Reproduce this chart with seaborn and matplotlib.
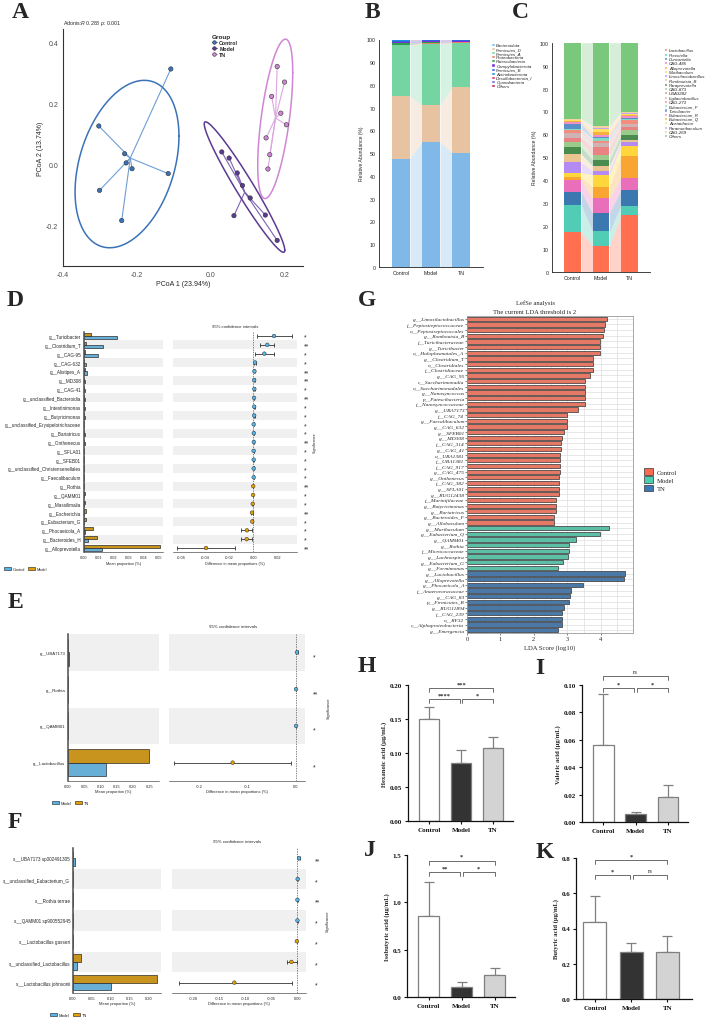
import numpy as np
import pandas as pd
import seaborn as sns
import matplotlib.pyplot as plt
from matplotlib.patches import Patch
from matplotlib.lines import Line2D
from matplotlib.transforms import blended_transform_factory

# ---------------- data ----------------
groups = ['Control', 'Model', 'TN']

# A: PCoA scores
pcoa_ctrl_x = [-0.108, -0.303, -0.233, -0.229, -0.213, -0.115, -0.301, -0.241]
pcoa_ctrl_y = [0.312, 0.125, 0.034, 0.004, -0.015, -0.031, -0.086, -0.185]
pcoa_model_x = [0.050, 0.072, 0.086, 0.107, 0.063, 0.180, 0.148, 0.030]
pcoa_model_y = [0.020, -0.029, -0.070, -0.111, -0.169, -0.250, -0.167, 0.040]
pcoa_tn_x = [0.180, 0.200, 0.165, 0.190, 0.205, 0.150, 0.160, 0.155]
pcoa_tn_y = [0.320, 0.269, 0.222, 0.167, 0.129, 0.086, 0.031, -0.016]

# B: phylum level relative abundance (%)
phyla = ['Bacteroidota', 'Firmicutes_D', 'Firmicutes_A', 'Proteobacteria', 'Patescibacteria',
         'Campylobacterota', 'Firmicutes_B', 'Actinobacteriota', 'Desulfobacterota_I',
         'Cyanobacteria', 'Others']
phylum_ctrl = [47.6, 27.4, 22.4, 0.4, 0.7, 0.6, 0.4, 0.1, 0.1, 0.1, 0.2]
phylum_model = [55.0, 16.1, 27.0, 0.5, 0.2, 0.5, 0.4, 0.1, 0.05, 0.05, 0.1]
phylum_tn = [50.2, 28.9, 19.4, 0.4, 0.1, 0.4, 0.4, 0.05, 0.05, 0.05, 0.05]

# C: genus level relative abundance (%)
genera = ['Lactobacillus', 'Prevotella', 'Duncaniella', 'CAG-485', 'Alloprevotella', 'Muribaculum',
          'Limosilactobacillus', 'Romboutsia_B', 'Paraprevotella', 'CAG-873', 'UBA3282',
          'Ligilactobacillus', 'CAG-273', 'Eubacterium_F', 'Turicibacter', 'Eubacterium_R',
          'Eubacterium_Q', 'Acetatifactor', 'Paramuribaculum', 'CAG-269', 'Others']
genus_ctrl = [17.2, 12.1, 5.6, 5.1, 1.2, 2.0, 4.5, 3.7, 3.2, 2.0, 1.8, 2.3, 1.0, 0.6, 2.3, 0.6, 0.4, 0.5, 0.3, 0.4, 33.2]
genus_model = [11.4, 6.2, 7.9, 6.5, 5.1, 5.3, 1.6, 2.3, 2.5, 2.1, 3.4, 1.9, 1.0, 1.0, 0.6, 0.7, 1.6, 1.2, 0.6, 0.7, 36.4]
genus_tn = [24.9, 3.9, 7.0, 5.1, 9.5, 4.6, 1.8, 0.6, 2.1, 2.2, 1.5, 1.3, 1.6, 0.7, 0.4, 0.6, 0.5, 0.6, 0.4, 0.4, 30.3]

# D: Control vs Model (STAMP)
d_taxa = ['g__Turicibacter', 'g__Clostridium_T', 'g__CAG-95', 'g__CAG-632', 'g__Alistipes_A', 'g__MD308',
          'g__CAG-41', 'g__unclassified_Bacteroidia', 'g__Intestinimonas', 'g__Butyricimonas',
          'g__unclassified_Erysipelotrichaceae', 'g__Bariatricus', 'g__Onthenecus', 'g__SFLA01',
          'g__SFEB01', 'g__unclassified_Christensenellales', 'g__Faecalibaculum', 'g__Rothia',
          'g__QAMM01', 'g__Massilimalia', 'g__Escherichia', 'g__Eubacterium_G', 'g__Phocaeicola_A',
          'g__Bacteroides_H', 'g__Alloprevotella']
d_ctrl = [0.022, 0.013, 0.0095, 0.0016, 0.0018, 0.0008, 0.0009, 0.0008, 0.0007, 0.0008, 0.0003, 0.0004,
          0.0004, 0.0003, 0.0003, 0.0003, 0.0003, 0.0001, 0.0001, 0.0002, 0.0003, 0.0002, 0.0005, 0.0030, 0.0118]
d_model = [0.005, 0.0016, 0.0005, 0.0003, 0.0010, 0.0002, 0.0002, 0.0003, 0.0001, 0.0002, 0.0001, 0.0001,
           0.0001, 0.0001, 0.0001, 0.0001, 0.0001, 0.0003, 0.0004, 0.0008, 0.0015, 0.0012, 0.0059, 0.0086, 0.0510]
d_lo = [0.003, 0.0058, 0.0009, 0.0006, 0.0004, 0.0003, 0.0003, 0.0002, 0.0002, 0.0002, 0.0001, 0.0001,
        0.0001, 0.0001, 0.0000, 0.0001, 0.0001, -0.0003, -0.0005, -0.0009, -0.0019, -0.0016, -0.0099, -0.0099, -0.0630]
d_hi = [0.032, 0.0174, 0.0168, 0.0019, 0.0012, 0.0009, 0.0011, 0.0008, 0.0010, 0.0010, 0.0004, 0.0005,
        0.0005, 0.0004, 0.0004, 0.0003, 0.0004, -0.0001, -0.0001, -0.0003, -0.0005, -0.0004, -0.0009, -0.0015, -0.0150]
d_sig = ['*', '**', '*', '*', '**', '**', '*', '**', '*', '*', '*', '*', '**', '*', '*', '*', '*', '**',
         '*', '*', '**', '*', '*', '*', '**']

# E: Model vs TN, genus
e_taxa = ['g__UBA7173', 'g__Rothia', 'g__QAMM01', 'g__Lactobacillus']
e_model = [0.0035, 0.0006, 0.0007, 0.117]
e_tn = [0.0012, 0.0002, 0.0002, 0.248]
e_lo = [-0.0003, 0.0001, 0.0001, -0.253]
e_hi = [0.0050, 0.0007, 0.0009, -0.010]
e_sig = ['*', '**', '*', '*']

# F: Model vs TN, species
f_taxa = ['s__UBA7173 sp002491305', 's__unclassified_Eubacterium_G', 's__Rothia terrae',
          's__QAMM01 sp900552945', 's__Lactobacillus gasseri', 's__unclassified_Lactobacillus',
          's__Lactobacillus johnsonii']
f_model = [0.0045, 0.0012, 0.0006, 0.0007, 0.0002, 0.0099, 0.100]
f_tn = [0.0010, 0.0002, 0.0001, 0.0002, 0.0008, 0.0210, 0.221]
f_lo = [0.0015, 0.0001, 0.0002, 0.0002, -0.0010, -0.0205, -0.228]
f_hi = [0.0055, 0.0019, 0.0008, 0.0008, -0.0002, -0.0005, -0.0096]
f_sig = ['**', '*', '**', '*', '*', '*', '*']

# G: LEfSe
g_ctrl_taxa = ['g__Limosilactobacillus', 'f__Peptostreptococcaceae', 'o__Peptostreptococcales',
               'g__Romboutsia_B', 'f__Turicibacteraceae', 'g__Turicibacter', 'o__Haloplasmatales_A',
               'g__Clostridium_T', 'o__Clostridiales', 'f__Clostridiaceae', 'g__CAG_95',
               'c__Saccharimonadia', 'o__Saccharimonadales', 'g__Nanosyncoccus', 'p__Patescibacteria',
               'f__Nanosyncoccaceae', 'g__UBA7173', 'f__CAG_74', 'g__Faecalibaculum', 'g__CAG_632',
               'g__SFEB01', 'g__MD308', 'f__CAG_314', 'g__CAG_41', 'o__UBA1381', 'f__UBA1381',
               'f__CAG_917', 'g__CAG_475', 'g__Onthenecus', 'f__CAG_382', 'g__SFLA01', 'g__RUG12438',
               'f__Marinifilaceae', 'g__Butyricimonas', 'g__Bariatricus', 'g__Bacteroides_F',
               'g__Allobaculum']
g_ctrl_lda = [4.19, 4.14, 4.10, 4.08, 3.97, 3.97, 3.97, 3.76, 3.76, 3.76, 3.69, 3.52, 3.52, 3.52, 3.52,
              3.52, 3.31, 3.00, 2.99, 2.98, 2.89, 2.83, 2.81, 2.80, 2.79, 2.79, 2.77, 2.77, 2.75, 2.74,
              2.74, 2.74, 2.67, 2.67, 2.65, 2.59, 2.59]
g_model_taxa = ['g__Muribaculum', 'g__Eubacterium_Q', 'g__QAMM01', 'g__Rothia', 'f__Micrococcaceae',
                'g__Lachnospira', 'g__Eubacterium_G', 'g__Formimonas']
g_model_lda = [4.25, 3.97, 3.25, 3.04, 3.04, 3.03, 2.86, 2.73]
g_tn_taxa = ['g__Lactobacillus', 'g__Alloprevotella', 'g__Phocaeicola_A', 'f__Anaerovoracaceae',
             'g__CAG_83', 'p__Firmicutes_B', 'g__RUG11894', 'f__CAG_239', 'o__RF32',
             'c__Alphaproteobacteria', 'g__Emergencia']
g_tn_lda = [4.73, 4.70, 3.48, 3.10, 3.07, 3.05, 2.90, 2.84, 2.84, 2.84, 2.73]

# H-K: SCFA concentrations (mean, SD)
hex_mean = [0.1505, 0.0858, 0.108]
hex_sd = [0.0175, 0.018, 0.016]
val_mean = [0.0564, 0.006, 0.018]
val_sd = [0.0368, 0.0012, 0.0087]
iso_mean = [0.858, 0.109, 0.233]
iso_sd = [0.352, 0.053, 0.074]
but_mean = [0.435, 0.268, 0.268]
but_sd = [0.151, 0.048, 0.091]
hex_sig = ['****', '*', '***']   # Control-Model, Model-TN, Control-TN
val_sig = ['*', '*', 'ns']
iso_sig = ['**', '*', '*']
but_sig = ['*', 'ns', '*']

# ---------------- style ----------------
sns.set_theme(style='white')
plt.rcParams['font.family'] = ['Liberation Sans', 'DejaVu Sans']
plt.rcParams['mathtext.fontset'] = 'custom'
plt.rcParams['mathtext.it'] = 'Liberation Sans:italic'
plt.rcParams['mathtext.rm'] = 'Liberation Sans'
SERIF = 'Liberation Serif'

pcoa_col = {'Control': '#3A72B8', 'Model': '#5B3A93', 'TN': '#CF86D3'}
pcoa_line = {'Control': '#6E9ED6', 'Model': '#7E62B3', 'TN': '#DDA6E0'}
phylum_colors = ['#80B9E8', '#E8C3A2', '#74D4A2', '#E0856E', '#2E9E4A', '#7B2FD6', '#3264E6',
                 '#1C8FE0', '#D6336C', '#6868E8', '#C41E45']
genus_colors = ['#FF6F50', '#52CDB5', '#3B78B0', '#E96FBA', '#F8A532', '#FFD63B', '#B38BF2',
                '#EAC592', '#4A8C50', '#9ACB8C', '#E98383', '#CDB3B3', '#F38D7F', '#82DAC2',
                '#5A90C8', '#F18FCA', '#F6B040', '#FFE262', '#C3A3F2', '#F1D2A3', '#79C87B']
stamp_blue, stamp_orange = '#56B4E9', '#E69F00'
lefse_col = {'Control': '#FA6A50', 'Model': '#4CCFAE', 'TN': '#3C79B6'}
acid_col = {'Control': '#FFFFFF', 'Model': '#333333', 'TN': '#D3D3D3'}

W, H = 710, 1020
fig = plt.figure(figsize=(W / 100, H / 100), dpi=100)


def add_ax(x0, y0, x1, y1):
    return fig.add_axes([x0 / W, 1 - y1 / H, (x1 - x0) / W, (y1 - y0) / H])


def ftext(x, y, s, **kw):
    fig.text(x / W, 1 - y / H, s, **kw)


def letter(x, y, s):
    ftext(x, y, s, ha='center', va='center', fontsize=17, fontweight='bold', family=SERIF)


def t_ellipse(pts, level=0.95, nu=5, npts=200):
    # robust covariance (like MASS::cov.trob) scaled to a 95% region
    n, p = pts.shape
    wt = np.ones(n)
    loc = pts.mean(0)
    w = np.sqrt(wt)
    for _ in range(25):
        w0 = w
        X = pts - loc
        _, d, vt = np.linalg.svd(np.sqrt(w / w.sum())[:, None] * X, full_matrices=False)
        wX = X @ vt.T @ np.diag(1 / d)
        Q = (wX ** 2).sum(1)
        w = wt * (nu + p) / (nu + Q)
        loc = (w[:, None] * pts).sum(0) / w.sum()
        if np.all(np.abs(w - w0) < 0.01):
            break
    Xs = np.sqrt(w)[:, None] * X
    cov = Xs.T @ Xs / wt.sum()
    r = np.sqrt(-2 * np.log(1 - level))
    t = np.linspace(0, 2 * np.pi, npts)
    circ = np.column_stack([np.cos(t), np.sin(t)])
    return loc + r * circ @ np.linalg.cholesky(cov).T


# ---------------- A ----------------
axA = add_ax(63, 30, 303, 267)
pcoa = pd.DataFrame({
    'PC1': pcoa_ctrl_x + pcoa_model_x + pcoa_tn_x,
    'PC2': pcoa_ctrl_y + pcoa_model_y + pcoa_tn_y,
    'Group': ['Control'] * len(pcoa_ctrl_x) + ['Model'] * len(pcoa_model_x) + ['TN'] * len(pcoa_tn_x)})
for g in groups:
    pts = pcoa.loc[pcoa.Group == g, ['PC1', 'PC2']].to_numpy()
    cx, cy = pts.mean(0)
    for x, y in pts:
        axA.plot([cx, x], [cy, y], color=pcoa_line[g], lw=0.8, zorder=1)
    ell = t_ellipse(pts)
    axA.plot(ell[:, 0], ell[:, 1], color=pcoa_col[g], lw=1.1, zorder=1)
sns.scatterplot(data=pcoa, x='PC1', y='PC2', hue='Group', palette=pcoa_col, s=10, edgecolor='#333333',
                linewidth=0.4, legend=False, ax=axA, zorder=3)
axA.set_xlim(-0.4, 0.25)
axA.set_ylim(-0.334, 0.443)
axA.set_xticks([-0.4, -0.2, 0.0, 0.2])
axA.set_yticks([-0.2, 0.0, 0.2, 0.4])
axA.xaxis.set_major_formatter(plt.FormatStrFormatter('%.1f'))
axA.yaxis.set_major_formatter(plt.FormatStrFormatter('%.1f'))
axA.tick_params(labelsize=5, colors='#4D4D4D', length=2, width=0.6, pad=1.5)
for s in ['top', 'right']:
    axA.spines[s].set_visible(False)
for s in ['left', 'bottom']:
    axA.spines[s].set_color('#333333')
    axA.spines[s].set_linewidth(0.8)
axA.set_xlabel('PCoA 1 (23.94%)', fontsize=5, labelpad=1.5)
axA.set_ylabel('PCoA 2 (13.74%)', fontsize=5, labelpad=1.5)
handles = [Line2D([0], [0], color=pcoa_line[g], lw=0.8, marker='o', markersize=2.6,
                  markerfacecolor=pcoa_col[g], markeredgecolor='#333333', markeredgewidth=0.4, label=g)
           for g in groups]
leg = axA.legend(handles=handles, title='Group', loc='upper left', bbox_to_anchor=(0.6, 1.0),
                 frameon=False, fontsize=3.8, title_fontsize=4.6, handlelength=1.0, labelspacing=0.2,
                 handletextpad=0.4)
leg.get_title().set_fontweight('bold')
leg._legend_box.align = 'left'
for t in leg.get_texts():
    t.set_fontweight('bold')
ftext(63, 23, r'Adonis:$\it{R}$ 0.288 $\it{p}$: 0.001', fontsize=3.8, va='center', ha='left')


# ---------------- B, C ----------------
def stack_flow(ax, names, cols, values, colors, width=0.6):
    x = np.arange(len(cols))
    bottom = np.zeros(len(cols))
    for k, (name, col) in enumerate(zip(names, colors)):
        vals = np.array([v[k] for v in values])
        ax.bar(x, vals, bottom=bottom, width=width, color=col, linewidth=0, zorder=2)
        top = bottom + vals
        for i in range(len(cols) - 1):
            xs = [x[i] + width / 2, x[i + 1] - width / 2]
            ax.fill_between(xs, bottom[i:i + 2], top[i:i + 2], color=col, alpha=0.3, lw=0, zorder=1)
        bottom = top
    ax.set_xticks(x)
    ax.set_xticklabels(cols)
    ax.set_xlim(-0.73, len(cols) - 1 + 0.73)
    ax.set_ylim(0, 100)
    ax.set_yticks(np.arange(0, 101, 10))
    ax.tick_params(labelsize=3.8, length=1.5, width=0.5, pad=1, colors='#222222')
    for s in ['top', 'right']:
        ax.spines[s].set_visible(False)
    for s in ['left', 'bottom']:
        ax.spines[s].set_linewidth(0.6)
        ax.spines[s].set_color('#222222')
    ax.set_ylabel('Relative Abundance (%)', fontsize=3.6, labelpad=1.5)
    hd = [Patch(facecolor=c, label=n) for n, c in zip(names, colors)]
    return hd


axB = add_ax(379, 40.5, 483, 268)
hB = stack_flow(axB, phyla, groups, [phylum_ctrl, phylum_model, phylum_tn], phylum_colors)
lg = axB.legend(handles=hB, loc='upper left', bbox_to_anchor=(1.06, 0.995), frameon=False, fontsize=3.2,
                handlelength=0.7, handleheight=0.7, labelspacing=0.0, handletextpad=0.4, borderpad=0)
for t in lg.get_texts():
    t.set_fontstyle('italic')

axC = add_ax(552, 43.7, 650, 272.7)
hC = stack_flow(axC, genera, groups, [genus_ctrl, genus_model, genus_tn], genus_colors)
lg = axC.legend(handles=hC, loc='upper left', bbox_to_anchor=(1.12, 0.985), frameon=False, fontsize=3.2,
                handlelength=0.7, handleheight=0.7, labelspacing=0.04, handletextpad=0.4, borderpad=0)
for t in lg.get_texts():
    t.set_fontstyle('italic')


# ---------------- D, E, F ----------------
def stamp(box_bar, box_ci, taxa, v1, v2, lo, hi, sig, names, bar_lim, bar_ticks, bar_fmt,
          ci_lim, ci_ticks, ci_fmt, lab_fs, tick_fs, star_x, sig_x, title_xy, legend_xy):
    n = len(taxa)
    diff = np.array(v1) - np.array(v2)
    axb = add_ax(*box_bar)
    axc = add_ax(*box_ci)
    for ax in (axb, axc):
        for i in range(n):
            if (n - 1 - i) % 2 == 1:
                ax.axhspan(i - 0.5, i + 0.5, color='#F0F0F0', lw=0, zorder=0)
    long = pd.DataFrame({'taxon': taxa * 2, 'value': list(v1) + list(v2),
                         'group': [names[0]] * n + [names[1]] * n})
    sns.barplot(data=long, x='value', y='taxon', hue='group', order=taxa, hue_order=[names[1], names[0]],
                palette={names[0]: stamp_blue, names[1]: stamp_orange}, orient='h', width=0.74,
                edgecolor='#1A1A1A', linewidth=0.45, errorbar=None, legend=False, ax=axb, zorder=2)
    axb.set_ylim(n - 0.5, -0.5)
    axb.set_xlim(*bar_lim)
    axb.set_xticks(bar_ticks)
    axb.xaxis.set_major_formatter(plt.FormatStrFormatter(bar_fmt))
    axb.set_xlabel('Mean proportion (%)', fontsize=tick_fs, labelpad=1)
    axb.set_ylabel('')
    axb.tick_params(axis='y', labelsize=lab_fs, length=1.2, width=0.4, pad=0.8)
    axb.tick_params(axis='x', labelsize=tick_fs, length=1.2, width=0.4, pad=0.8)
    for s in ['top', 'right']:
        axb.spines[s].set_visible(False)
    axb.spines['left'].set_linewidth(1.1)
    axb.spines['left'].set_color('#4D4D4D')
    axb.spines['bottom'].set_linewidth(0.4)
    axb.spines['bottom'].set_color('#222222')

    rows = np.arange(n)
    axc.errorbar(diff, rows, xerr=[diff - np.array(lo), np.array(hi) - diff], fmt='none',
                 ecolor='#333333', elinewidth=0.6, capsize=1.4, capthick=0.6, zorder=2)
    pts = pd.DataFrame({'diff': diff, 'row': rows,
                        'side': np.where(diff > 0, names[0], names[1])})
    sns.scatterplot(data=pts, x='diff', y='row', hue='side',
                    palette={names[0]: stamp_blue, names[1]: stamp_orange}, s=7,
                    edgecolor='#333333', linewidth=0.35, legend=False, ax=axc, zorder=3)
    axc.axvline(0, color='#555555', lw=0.5, ls=(0, (2, 1.5)), zorder=1)
    axc.set_ylim(n - 0.5, -0.5)
    axc.set_xlim(*ci_lim)
    axc.set_xticks(ci_ticks)
    axc.xaxis.set_major_formatter(plt.FormatStrFormatter(ci_fmt))
    axc.set_yticks([])
    axc.set_ylabel('')
    axc.set_xlabel('Difference in mean proportions (%)', fontsize=tick_fs, labelpad=1)
    axc.tick_params(axis='x', labelsize=tick_fs, length=1.2, width=0.4, pad=0.8)
    for s in ['top', 'right', 'left']:
        axc.spines[s].set_visible(False)
    axc.spines['bottom'].set_linewidth(0.4)
    axc.spines['bottom'].set_color('#222222')
    tr = blended_transform_factory(axc.transAxes, axc.transData)
    for i, s in enumerate(sig):
        axc.text(star_x, i + 0.12, s, transform=tr, ha='left', va='center', fontsize=4.8,
                 clip_on=False)
    axc.text(sig_x, 0.5, 'Significance', transform=axc.transAxes, rotation=90, ha='center',
             va='center', fontsize=tick_fs)
    ftext(title_xy[0], title_xy[1], '95% confidence intervals', ha='center', va='center',
          fontsize=tick_fs + 0.3)
    hd = [Patch(facecolor=stamp_blue, edgecolor='#1A1A1A', linewidth=0.4, label=names[0]),
          Patch(facecolor=stamp_orange, edgecolor='#1A1A1A', linewidth=0.4, label=names[1])]
    fig.legend(handles=hd, loc='center left', bbox_to_anchor=(legend_xy[0] / W, 1 - legend_xy[1] / H),
               ncol=2, frameon=False, fontsize=tick_fs, handlelength=1.8, handleheight=0.9,
               columnspacing=0.8, handletextpad=0.4, borderpad=0)


stamp((84, 332.6, 163, 553.4), (173, 332.6, 297, 553.4), d_taxa, d_ctrl, d_model, d_lo, d_hi, d_sig,
      ['Control', 'Model'], (0, 0.053), np.arange(0, 0.051, 0.01), '%.2f',
      (-0.0665, 0.036), [-0.06, -0.04, -0.02, 0.0, 0.02], '%.2f', 3.3, 2.8, 1.056, 1.145,
      (235, 327), (2, 570))
stamp((68, 635, 159, 782), (169, 635, 305, 782), e_taxa, e_model, e_tn, e_lo, e_hi, e_sig,
      ['Model', 'TN'], (0, 0.28), np.arange(0, 0.26, 0.05), '%.2f',
      (-0.263, 0.019), [-0.2, -0.1, 0.0], '%.1f', 3.2, 2.9, 1.06, 1.176,
      (233, 627), (50, 804))
stamp((73, 849, 161, 994), (172, 849, 306, 994), f_taxa, f_model, f_tn, f_lo, f_hi, f_sig,
      ['Model', 'TN'], (0, 0.232), np.arange(0, 0.21, 0.05), '%.2f',
      (-0.241, 0.017), [-0.20, -0.15, -0.10, -0.05, 0.0], '%.2f', 3.3, 2.9, 1.067, 1.164,
      (237, 842), (48, 1016))

# ---------------- G ----------------
axG = add_ax(467, 317, 633, 634)
lefse = pd.DataFrame({
    'taxon': g_ctrl_taxa + g_model_taxa + g_tn_taxa,
    'lda': g_ctrl_lda + g_model_lda + g_tn_lda,
    'group': ['Control'] * len(g_ctrl_taxa) + ['Model'] * len(g_model_taxa) + ['TN'] * len(g_tn_taxa)})
axG.set_axisbelow(True)
sns.barplot(data=lefse, x='lda', y='taxon', hue='group', palette=lefse_col, dodge=False, orient='h',
            width=0.75, edgecolor='#333333', linewidth=0.5, errorbar=None, legend=False, ax=axG)
axG.set_xlim(0, 4.97)
axG.set_ylim(len(lefse) - 0.5, -0.5)
axG.set_xticks([0, 1, 2, 3, 4])
axG.set_xticks(np.arange(0.5, 5, 1), minor=True)
axG.grid(True, which='both', color='#DDDDDD', lw=0.5)
for s in axG.spines.values():
    s.set_color('#9A9A9A')
    s.set_linewidth(0.6)
axG.tick_params(axis='y', labelsize=3.9, length=1.5, width=0.4, pad=0.5, left=True)
axG.tick_params(axis='x', labelsize=4.6, length=1.5, width=0.4, pad=1, bottom=True)
for t in axG.get_yticklabels():
    t.set_fontfamily(SERIF)
    t.set_fontstyle('italic')
for t in axG.get_xticklabels():
    t.set_fontfamily(SERIF)
axG.set_ylabel('')
axG.set_xlabel('LDA Score (log10)', fontsize=4.8, family=SERIF, labelpad=1)
ftext(535, 303, 'LefSe analysis', ha='center', va='center', fontsize=4.8, family=SERIF)
ftext(535, 312, 'The current LDA threshold is 2', ha='center', va='center', fontsize=4.8, family=SERIF)
hd = [Patch(facecolor=lefse_col[g], edgecolor='#333333', linewidth=0.5, label=g) for g in groups]
lg = fig.legend(handles=hd, loc='upper left', bbox_to_anchor=(641 / W, 1 - 466 / H), frameon=False,
                fontsize=4.8, handlelength=1.3, handleheight=1.1, labelspacing=0.25, handletextpad=0.6,
                borderpad=0)
for t in lg.get_texts():
    t.set_fontfamily(SERIF)


# ---------------- H-K ----------------
def acid(box, means, sds, sig, ylabel, ymax, yticks, yfmt, levels, xlim=(-0.66, 2.62)):
    ax = add_ax(*box)
    df = pd.DataFrame({'Group': groups, 'val': means})
    ax.errorbar(range(3), means, yerr=[np.zeros(3), sds], fmt='none', ecolor='#808080', elinewidth=0.9,
                capsize=3.6, capthick=0.9, zorder=1)
    sns.barplot(data=df, x='Group', y='val', hue='Group', palette=acid_col, edgecolor='#7F7F7F',
                linewidth=0.9, width=0.63, errorbar=None, legend=False, ax=ax, zorder=2)
    ax.set_xlim(*xlim)
    ax.set_ylim(0, ymax)
    ax.set_yticks(yticks)
    ax.yaxis.set_major_formatter(plt.FormatStrFormatter(yfmt))
    for s in ['top', 'right']:
        ax.spines[s].set_visible(False)
    for s in ['left', 'bottom']:
        ax.spines[s].set_linewidth(0.9)
        ax.spines[s].set_color('#111111')
    ax.tick_params(length=2.5, width=0.8, pad=1.5, labelsize=5, colors='#111111', left=True, bottom=True)
    for t in ax.get_xticklabels() + ax.get_yticklabels():
        t.set_fontfamily(SERIF)
        t.set_fontweight('bold')
    ax.set_xlabel('')
    ax.set_ylabel(ylabel, fontsize=4.8, family=SERIF, fontweight='bold', labelpad=2)
    low, high = levels
    tick = 0.028 * ymax
    pairs = [(0, 0.96, low, sig[0]), (1.04, 2, low, sig[1]), (0, 2, high, sig[2])]
    for a, b, yb, s in pairs:
        ax.plot([a, a, b, b], [yb - tick, yb, yb, yb - tick], color='#555555', lw=0.6, clip_on=False)
        ax.text((a + b) / 2, yb + 0.012 * ymax, s, ha='center', va='bottom',
                fontsize=4.6 if s != 'ns' else 4.0, family=SERIF,
                fontweight='bold' if s != 'ns' else 'normal', clip_on=False)


acid((408, 686, 513, 822), hex_mean, hex_sd, hex_sig, 'Hexanoic acid (μg/mL)', 0.20,
     [0, 0.05, 0.10, 0.15, 0.20], '%.2f', (0.179, 0.195))
acid((582, 686, 688, 823), val_mean, val_sd, val_sig, 'Valeric acid (μg/mL)', 0.10,
     [0, 0.02, 0.04, 0.06, 0.08, 0.10], '%.2f', (0.098, 0.1065))
acid((407, 856, 515, 998), iso_mean, iso_sd, iso_sig, 'Isobutyric acid (μg/mL)', 1.5,
     [0, 0.5, 1.0, 1.5], '%.1f', (1.32, 1.44))
acid((576, 859, 692, 1000), but_mean, but_sd, but_sig, 'Butyric acid (μg/mL)', 0.8,
     [0, 0.2, 0.4, 0.6, 0.8], '%.1f', (0.703, 0.789), xlim=(-0.52, 2.68))

# ---------------- panel letters ----------------
for s, x, y in [('A', 20, 13), ('B', 372, 13), ('C', 520, 13), ('D', 15, 300), ('E', 15, 602),
                ('F', 15, 822), ('G', 367, 300), ('H', 367, 667), ('I', 540, 668), ('J', 370, 850),
                ('K', 545, 853)]:
    letter(x, y, s)

fig.savefig('out.png', dpi=100)
